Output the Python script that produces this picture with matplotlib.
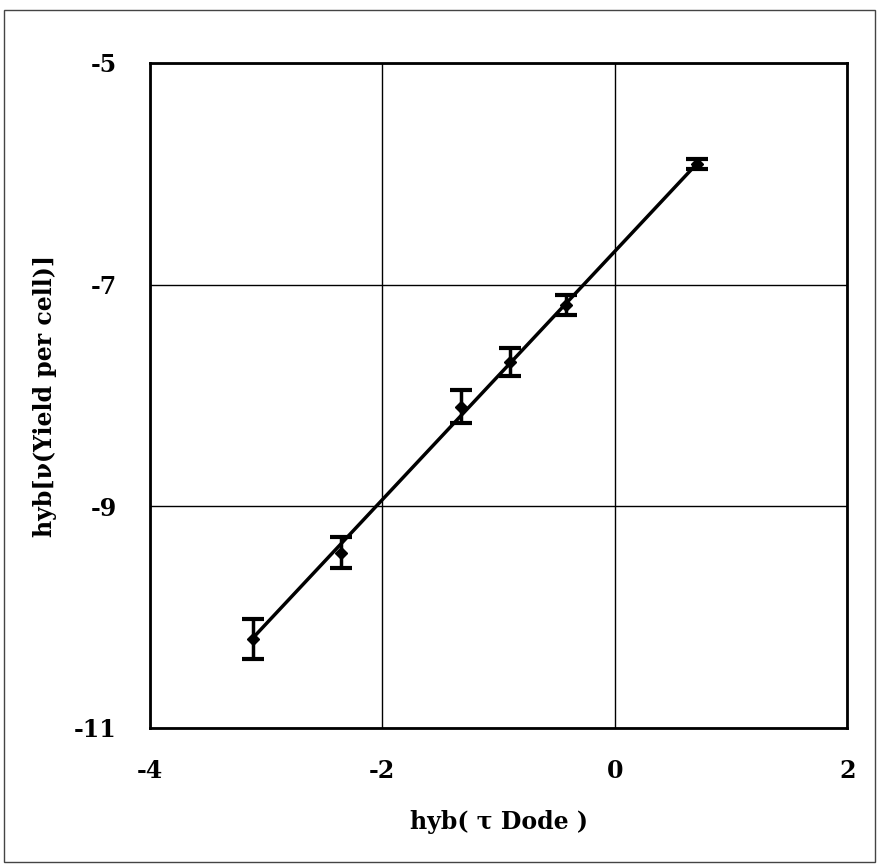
import numpy as np
import matplotlib.pyplot as plt
from matplotlib.patches import Rectangle

# Data
x = [-3.11, -2.36, -1.32, -0.905, -0.42, 0.71]
y = [-10.20, -9.42, -8.10, -7.70, -7.18, -5.91]
yerr = [0.18, 0.14, 0.15, 0.125, 0.09, 0.045]

# Fitted straight line (slope, intercept)
slope = 1.12
intercept = -6.70

xticks = [-4, -2, 0, 2]
yticks = [-11, -9, -7, -5]

plt.rcParams['font.family'] = ['DejaVu Serif']
plt.rcParams['font.weight'] = 'bold'
plt.rcParams['axes.unicode_minus'] = False

fig = plt.figure(figsize=(8.77, 8.66), dpi=100)
ax = fig.add_axes([0.171, 0.1594, 0.795, 0.7679])

# outer border around the whole picture
fig.patches.append(Rectangle((0.004, 0.005), 0.994, 0.983, transform=fig.transFigure,
                             fill=False, edgecolor='#444444', linewidth=1.0))

ax.set_xlim(-4, 2)
ax.set_ylim(-11, -5)
ax.set_xticks(xticks)
ax.set_yticks(yticks)
ax.tick_params(length=0, labelsize=17)
ax.tick_params(axis='y', pad=24)
ax.tick_params(axis='x', pad=22)
for lab in ax.get_xticklabels() + ax.get_yticklabels():
    lab.set_fontweight('bold')

ax.grid(True, color='black', linewidth=1.0)
ax.set_axisbelow(True)
for s in ax.spines.values():
    s.set_linewidth(2.0)

# fitted line between first and last point
xl = np.array([x[0], x[-1]])
ax.plot(xl, slope * xl + intercept, color='black', linewidth=2.5)

ax.errorbar(x, y, yerr=yerr, fmt='D', color='black', markersize=6,
            markerfacecolor='black', elinewidth=2.5, capsize=8, capthick=3)

ax.set_xlabel("hyb( \u03c4 Dode )", fontsize=17, fontweight='bold', labelpad=20)
ax.set_ylabel("hyb[\u03bd(Yield per cell)]", fontsize=17, fontweight='bold', labelpad=12)

fig.savefig("out.png", dpi=100)
